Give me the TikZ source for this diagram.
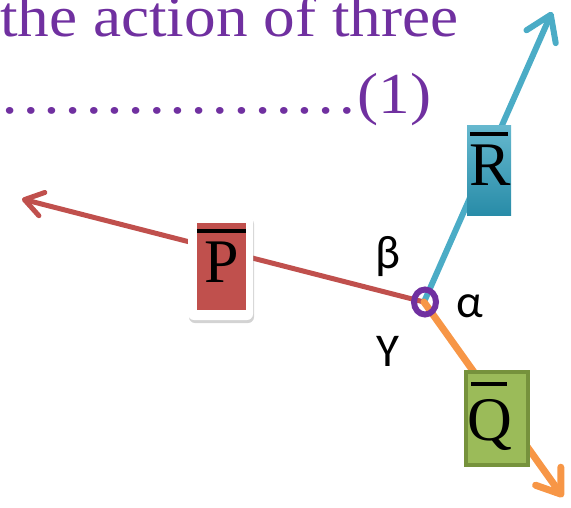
\documentclass[tikz,border=0pt]{standalone}
\usepackage{fontspec}
\setmainfont{Liberation Serif}
\newfontfamily\titlefont[FakeStretch=1.09]{Liberation Serif}
\newfontfamily\greekfont{Carlito}
\usetikzlibrary{arrows.meta,shadows}
\definecolor{ttl}{RGB}{112,48,160}
\definecolor{pred}{RGB}{192,80,77}
\definecolor{rblue}{RGB}{75,172,198}
\definecolor{rbluedark}{RGB}{40,140,168}
\definecolor{qor}{RGB}{247,150,70}
\definecolor{qgreen}{RGB}{155,187,89}
\definecolor{qdark}{RGB}{118,146,60}
\begin{document}
\begin{tikzpicture}[x=1pt,y=-1pt,
  forceline/.style n args={4}{draw=#1, line width=#2, line cap=round,
    -{Straight Barb[length=#3, width=#4, round]}},
  overbar/.style={line width=4pt, black},
  letter/.style={font=\fontsize{62}{62}\selectfont, inner sep=0pt, anchor=base},
  greek/.style={font=\greekfont\fontsize{47}{47}\selectfont, inner sep=0pt},
  titletext/.style={font=\titlefont\fontsize{58}{58}\selectfont, text=ttl, inner sep=0pt, anchor=base west}
]
\useasboundingbox (0,0) rectangle (571,507);
\clip (0,0) rectangle (571,507);

% title text
\node[titletext] (t1) at (0,36) {the action of three};
\node[titletext] (t2) at (-22,113) {………………(1)};

% forces
\coordinate (c) at (424,302);
\coordinate (tP) at (22,199);
\coordinate (tR) at (552,12);
\coordinate (tQ) at (563,497);
\draw[forceline={pred}{5pt}{18pt}{24pt}] (c) -- (tP);
\draw[forceline={rblue}{6pt}{24pt}{32pt}] (c) -- (tR);
\draw[forceline={qor}{7pt}{22pt}{31pt}] (c) -- (tQ);

% ring at origin
\draw[ttl, line width=6pt] (425,302) ellipse [x radius=11, y radius=12.5];

% P label
\node[draw=none, fill=white, rounded corners=6pt, minimum width=65pt, minimum height=105pt,
  drop shadow={opacity=0.35, shadow xshift=1pt, shadow yshift=-3pt}] (Pback) at (220.5,267.5) {};
\node[fill=pred, minimum width=49pt, minimum height=87pt, inner sep=0pt] (Pbox) at (221.5,266.5) {};
\draw[overbar] ([yshift=-8pt]Pbox.north west) -- ([yshift=-8pt]Pbox.north east);
\node[letter] (P) at (222,282) {P};

% R label
\node[top color=rblue!85!white, bottom color=rbluedark, minimum width=44pt, minimum height=90pt, inner sep=0pt] (Rbox) at (489,170) {};
\draw[overbar] ([xshift=3pt,yshift=-9pt]Rbox.north west) -- ([xshift=-3pt,yshift=-9pt]Rbox.north east);
\node[letter] (R) at (490,185) {R};

% Q label
\node[fill=qgreen, draw=qdark, line width=4pt, minimum width=62pt, minimum height=93pt, inner sep=0pt] (Qbox) at (497,418.5) {};
\draw[overbar] (471,384) -- (507,384);
\node[letter] (Q) at (490,440) {Q};

% angle labels
\node[greek] (beta) at (388,257) {β};
\node[greek] (alpha) at (470,306) {α};
\node[greek] (gamma) at (388,351) {Y};
\end{tikzpicture}
\end{document}
